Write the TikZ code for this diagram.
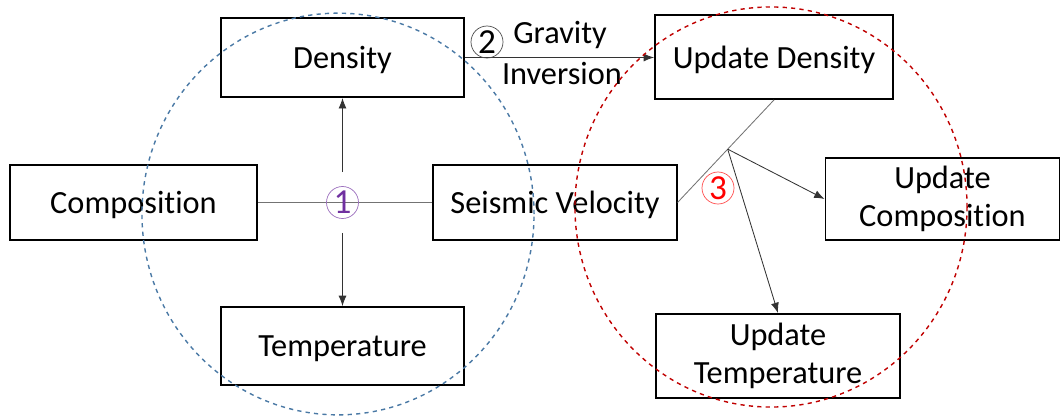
\documentclass[tikz,border=0pt]{standalone}
\usepackage{fontspec}
\setmainfont[Ligatures=NoCommon]{Carlito}
\usetikzlibrary{positioning,arrows.meta,calc}
\definecolor{zoneblue}{HTML}{4A79A5}
\definecolor{zonered}{HTML}{C00000}
\definecolor{numpurple}{HTML}{7030A0}

\begin{document}
\begin{tikzpicture}[
  x=0.025cm, y=-0.025cm,
  box/.style={draw, line width=1.3pt, minimum width=6.08cm, minimum height=1.95cm,
              inner sep=0pt, align=center, font=\fontsize{23}{26.5}\selectfont},
  num/.style={draw, circle, line width=0.5pt, minimum size=0.8cm, inner sep=0pt,
              font=\fontsize{25}{25}\selectfont},
  lbl/.style={inner sep=0pt, font=\fontsize{23}{26}\selectfont},
  arr/.style={-{Latex[length=2.6mm,width=2mm]}, line width=0.6pt, draw=black!80},
  link/.style={line width=0.6pt, draw=black!55},
  zone/.style={dashed, line width=1pt}
]
\useasboundingbox (0,0) rectangle (1061,416);

% ===== Left group: starting model =====
\node[box, minimum height=1.98cm, text depth=0pt]       (dens) at (342.5,57.5) {Density};
\node[box, minimum width=6.18cm, minimum height=1.88cm, text depth=0pt] (comp) at (133.5,202.5) {Composition};
\node[box, minimum height=1.88cm, text depth=0pt]       (seis) at (555,202.5) {Seismic Velocity};
\node[box, text depth=0pt]                              (temp) at (342.5,346) {Temperature};
\draw[link] (comp.east) -- (seis.west);
\node[num, draw=numpurple!70, text=numpurple] (n1) at (342.5,202.5) {1};
\draw[arr] ([yshift=0.35cm]n1.north) -- (dens.south);
\draw[arr] ([yshift=-0.35cm]n1.south) -- (temp.north);

% ===== Right group: updated model =====
\node[box, minimum width=5.95cm, minimum height=2.1cm, text depth=0pt] (udens) at (774,57) {Update Density};
\node[box, minimum width=5.85cm, minimum height=2.05cm] (ucomp) at (942.5,199) {Update\\Composition};
\node[box, minimum width=6.1cm, minimum height=2.1cm]   (utemp) at (778,356) {Update\\Temperature};

% gravity inversion step
\draw[arr] (dens.east) -- (dens.east -| udens.west);
\node[num, draw=black!70] (n2) at (487,42) {2};
\node[lbl] (grav) at (560,35) {Gravity};
\node[lbl] (inv)  at (562,73) {Inversion};

% conversion step
\draw[link] (seis.east) -- (udens.south);
\coordinate (fork) at ($(seis.east)!0.52!(udens.south)$);
\draw[arr] (fork) -- (ucomp.west);
\draw[arr] (fork) -- (utemp.north);
\node[num, draw=red!70, text=red] (n3) at (718,188) {3};

% ===== Dashed groupings =====
\draw[zone, draw=zoneblue] (338,214) ellipse [x radius=4.9cm, y radius=5.02cm];
\draw[zone, draw=zonered]  (771,207) ellipse [x radius=4.9cm, y radius=5cm];

\end{tikzpicture}
\end{document}
